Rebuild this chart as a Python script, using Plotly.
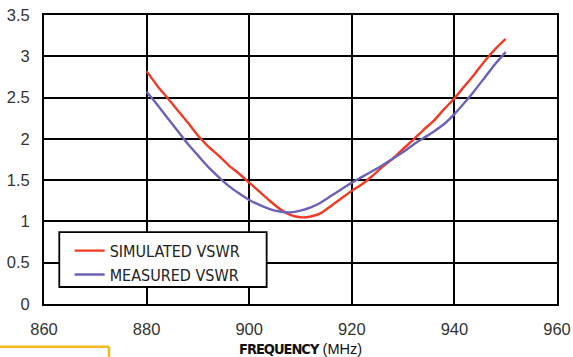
import plotly.graph_objects as go

freq = [880, 882, 884, 886, 888, 890, 892, 894, 896, 898, 900, 902, 904, 906, 908,
        910, 912, 914, 916, 918, 920, 922, 924, 926, 928, 930, 932, 934, 936, 938,
        940, 942, 944, 946, 948, 950]
simulated = [2.82, 2.65, 2.50, 2.35, 2.20, 2.04, 1.91, 1.80, 1.68, 1.58, 1.47, 1.36,
             1.25, 1.15, 1.08, 1.05, 1.06, 1.10, 1.19, 1.28, 1.37, 1.45, 1.55, 1.66,
             1.76, 1.88, 1.99, 2.11, 2.22, 2.36, 2.49, 2.64, 2.79, 2.95, 3.09, 3.21]
measured = [2.57, 2.42, 2.26, 2.10, 1.94, 1.80, 1.66, 1.54, 1.43, 1.34, 1.26, 1.20,
            1.15, 1.12, 1.11, 1.13, 1.17, 1.23, 1.31, 1.39, 1.47, 1.54, 1.61, 1.68,
            1.76, 1.84, 1.93, 2.01, 2.09, 2.18, 2.30, 2.44, 2.59, 2.75, 2.91, 3.05]

x_ticks = [860, 880, 900, 920, 940, 960]
y_ticks = [0, 0.5, 1, 1.5, 2, 2.5, 3, 3.5]
y_tick_labels = ["0", "0.5", "1", "1.5", "2", "2.5", "3", "3.5"]

RED = "#ef3b24"
BLUE = "#6a62b4"
NARROW = "Liberation Sans Narrow, DejaVu Sans Condensed, Arial Narrow, sans-serif"

fig = go.Figure()
fig.add_trace(go.Scatter(x=freq, y=simulated, mode="lines", name="SIMULATED VSWR",
                         line=dict(color=RED, width=2.4, shape="spline", smoothing=0.6)))
fig.add_trace(go.Scatter(x=freq, y=measured, mode="lines", name="MEASURED VSWR",
                         line=dict(color=BLUE, width=2.4, shape="spline", smoothing=0.6)))

fig.update_layout(
    width=573, height=357,
    margin=dict(l=44, r=16, t=15, b=53, autoexpand=False),
    paper_bgcolor="white", plot_bgcolor="white",
    font=dict(family="Liberation Sans, Arial, sans-serif", size=16, color="#333333"),
    showlegend=True,
    legend=dict(
        x=0.05, y=0.243, xanchor="left", yanchor="top",
        bgcolor="rgba(0,0,0,0)", borderwidth=0,
        font=dict(family=NARROW, size=16, color="#222222"),
        itemwidth=30,
    ),
    xaxis=dict(
        range=[860, 960], tickvals=x_ticks, ticktext=[str(v) for v in x_ticks],
        showgrid=True, gridcolor="black", gridwidth=2,
        showline=True, linecolor="black", linewidth=2, mirror=True,
        zeroline=False, ticks="", ticklabelstandoff=9, automargin=False,
        tickfont=dict(size=16.5, color="#333333"),
        title=dict(
            text='<b><span style="letter-spacing:-1px">FREQUENCY</span></b> '
                 '<span style="font-family:Liberation Sans, Arial, sans-serif">(MHz)</span>',
            standoff=9,
            font=dict(family=NARROW, size=14.5, color="#111111")),
    ),
    yaxis=dict(
        range=[0, 3.5], tickvals=y_ticks, ticktext=y_tick_labels,
        showgrid=True, gridcolor="black", gridwidth=2,
        showline=True, linecolor="black", linewidth=2, mirror=True,
        zeroline=False, ticks="", ticklabelstandoff=9, automargin=False,
        tickfont=dict(size=16.5, color="#333333"),
    ),
    shapes=[
        dict(type="rect", xref="paper", yref="paper", x0=0.0298, x1=0.434,
             y0=0.0588, y1=0.249, layer="above",
             fillcolor="white", line=dict(color="black", width=1.8)),
        dict(type="line", xref="paper", yref="paper", x0=-0.09, x1=0.1267,
             y0=-0.148, y1=-0.148, line=dict(color="#f5b822", width=2.5)),
        dict(type="line", xref="paper", yref="paper", x0=0.1267, x1=0.1267,
             y0=-0.148, y1=-0.2, line=dict(color="#f5b822", width=2.5)),
    ],
)

fig.write_html("out.html", config={"displayModeBar": False},
               post_script="document.body.style.margin='0';")
